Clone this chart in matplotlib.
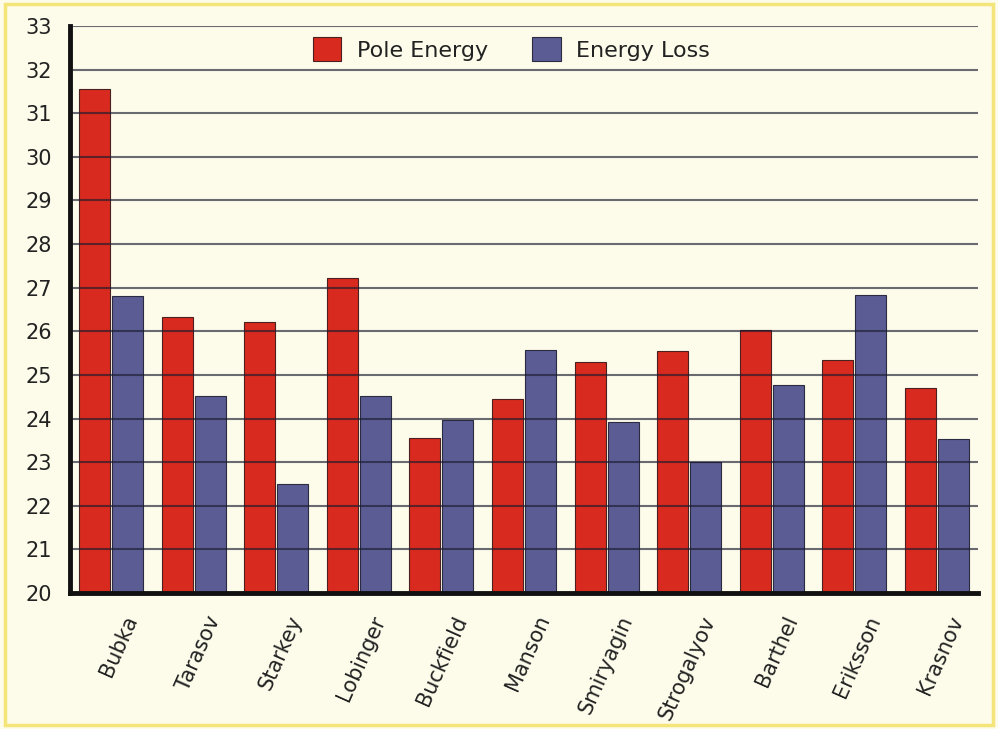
import numpy as np
import matplotlib
matplotlib.use("Agg")
from matplotlib import pyplot as plt
from matplotlib.patches import Rectangle

# vaulter names and the two energy series
athletes = ["Bubka", "Tarasov", "Starkey", "Lobinger", "Buckfield", "Manson",
            "Smiryagin", "Strogalyov", "Barthel", "Eriksson", "Krasnov"]
pole_energy = [31.55, 26.33, 26.21, 27.22, 23.55, 24.44, 25.30, 25.55, 26.04, 25.35, 24.71]
energy_loss = [26.81, 24.51, 22.49, 24.51, 23.97, 25.58, 23.93, 23.01, 24.78, 26.84, 23.52]
yticks = list(range(20, 34))

plt.rcParams['font.family'] = ['DejaVu Sans']
plt.rcParams['font.size'] = 15

red = '#d82a1e'
blue = '#5b5c93'
cream = '#fdfbea'

fig = plt.figure(figsize=(9.98, 7.29), dpi=100)
fig.patch.set_facecolor(cream)
# yellow frame round the whole figure
fig.patches.append(Rectangle((0.005, 0.006), 0.99, 0.988, transform=fig.transFigure,
                             fill=False, edgecolor='#f3e57a', linewidth=2.5))

ax = fig.add_axes([0.0701, 0.1866, 0.9099, 0.7777])
ax.set_facecolor(cream)

x = np.arange(len(athletes))
w = 0.375
ax.bar(x - 0.2, np.array(pole_energy) - 20, w, bottom=20, color=red,
       edgecolor='#4a2020', linewidth=0.8, label='Pole Energy', zorder=2)
ax.bar(x + 0.2, np.array(energy_loss) - 20, w, bottom=20, color=blue,
       edgecolor='#2a2a40', linewidth=0.8, label='Energy Loss', zorder=2)

# horizontal rules drawn over the bars
for v in yticks[1:]:
    ax.axhline(v, color='#1c1c30', alpha=0.65, linewidth=1.5, zorder=3)

ax.set_xlim(-0.5, 10.5)
ax.set_ylim(20, 33)
ax.set_yticks(yticks)
ax.tick_params(axis='y', length=0, pad=13, labelsize=15, colors='#222222')

ax.set_xticks(x + 0.36)
ax.set_xticklabels(athletes, rotation=66, ha='right', va='top', fontsize=15, color='#222222')
ax.tick_params(axis='x', length=0, pad=14)

for s in ['top', 'right']:
    ax.spines[s].set_visible(False)
for s in ['left', 'bottom']:
    ax.spines[s].set_linewidth(3.5)
    ax.spines[s].set_color('#111111')
    ax.spines[s].set_zorder(4)

leg = ax.legend(loc='center', bbox_to_anchor=(0.486, 0.959), ncol=2, frameon=False,
                handlelength=1.28, handleheight=1.28, columnspacing=2.0, handletextpad=0.68,
                fontsize=16, borderaxespad=0, borderpad=0)
for t in leg.get_texts():
    t.set_color('#222222')

fig.savefig('out.png', dpi=100, facecolor=fig.get_facecolor())
